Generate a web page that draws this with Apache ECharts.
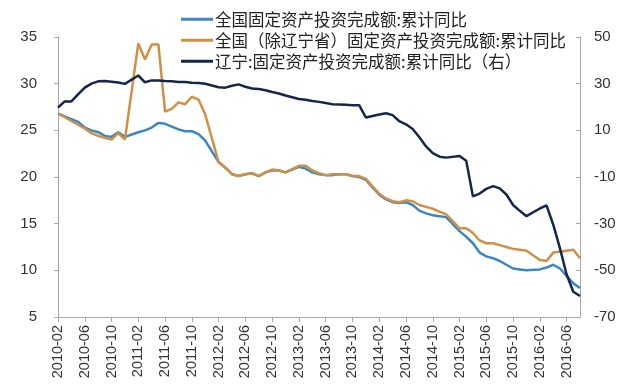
<!DOCTYPE html>
<html>
<head>
<meta charset="utf-8">
<script src="https://cdn.jsdelivr.net/npm/echarts@6/dist/echarts.min.js"></script>
<style>
html,body{margin:0;padding:0;background:#fff;}
#c{width:630px;height:389px;}
</style>
</head>
<body>
<div id="c"></div>
<script>
const categories = [
"2010-02","2010-03","2010-04","2010-05","2010-06","2010-07","2010-08","2010-09","2010-10","2010-11","2010-12",
"2011-01","2011-02","2011-03","2011-04","2011-05","2011-06","2011-07","2011-08","2011-09","2011-10","2011-11","2011-12",
"2012-01","2012-02","2012-03","2012-04","2012-05","2012-06","2012-07","2012-08","2012-09","2012-10","2012-11","2012-12",
"2013-01","2013-02","2013-03","2013-04","2013-05","2013-06","2013-07","2013-08","2013-09","2013-10","2013-11","2013-12",
"2014-01","2014-02","2014-03","2014-04","2014-05","2014-06","2014-07","2014-08","2014-09","2014-10","2014-11","2014-12",
"2015-01","2015-02","2015-03","2015-04","2015-05","2015-06","2015-07","2015-08","2015-09","2015-10","2015-11","2015-12",
"2016-01","2016-02","2016-03","2016-04","2016-05","2016-06","2016-07","2016-08"
];

const seriesNames = [
"全国固定资产投资完成额:累计同比",
"全国（除辽宁省）固定资产投资完成额:累计同比",
"辽宁:固定资产投资完成额:累计同比（右）"
];

// 全国 (left axis)
const national = [
26.8,26.5,26.2,25.9,25.3,25.0,24.8,24.4,24.3,24.8,24.3,
null,24.8,25.0,25.3,25.8,25.7,25.4,25.1,24.9,24.9,24.6,23.9,
null,21.6,21.0,20.3,20.1,20.3,20.4,20.1,20.5,20.7,20.7,20.5,
null,21.1,20.9,20.5,20.3,20.2,20.2,20.3,20.3,20.1,20.0,19.7,
null,18.1,17.6,17.3,17.2,17.3,17.0,16.4,16.1,15.9,15.8,15.7,
null,14.2,13.6,12.9,11.9,11.5,11.3,11.0,10.6,10.2,10.1,10.0,
null,10.1,10.3,10.6,10.2,9.4,8.6,8.1
];

// 全国（除辽宁省） (left axis)
const nationalExLN = [
26.8,26.4,26.0,25.6,25.2,24.7,24.4,24.2,24.0,24.7,24.0,
null,34.3,32.6,34.2,34.2,27.0,27.3,28.0,27.8,28.6,28.3,26.7,
null,21.6,21.0,20.3,20.1,20.3,20.4,20.1,20.5,20.8,20.7,20.5,
null,21.2,21.2,20.7,20.4,20.2,20.3,20.3,20.3,20.1,20.1,19.8,
null,18.2,17.7,17.4,17.3,17.5,17.4,17.0,16.8,16.6,16.3,16.0,
null,14.5,14.5,14.0,13.2,12.9,12.9,12.7,12.5,12.3,12.2,12.1,
null,11.1,11.0,11.9,12.0,12.1,12.2,11.3
];

// 辽宁 (right axis)
const liaoning = [
19.7,22.4,22.4,25.4,28.3,30.0,31.0,31.1,30.8,30.5,29.9,
null,33.5,30.6,31.4,31.4,31.1,31.0,30.7,30.7,30.4,30.3,30.0,
null,28.5,28.3,29.1,29.7,28.7,27.9,27.7,27.2,26.4,25.8,24.9,
null,23.4,23.1,22.6,22.2,21.7,21.2,21.1,21.0,20.8,20.8,15.5,
null,16.8,17.3,16.5,13.9,12.6,10.6,7.0,3.1,0.2,-1.3,-1.7,
null,-1.0,-3.0,-18.3,-17.1,-15.1,-13.9,-14.9,-17.5,-22.0,-24.5,-26.8,
null,-23.5,-22.2,-30.4,-40.5,-51.8,-59.2,-61.0
];

const leftTicks = {min: 5, max: 35, interval: 5};
const rightTicks = {min: -70, max: 50, interval: 20};

const colors = ["#3b87c3", "#d08f45", "#15264a"];
const numFont = "'Liberation Sans', Arial, sans-serif";

const chart = echarts.init(document.getElementById('c'), null, {renderer: 'canvas'});
chart.setOption({
  backgroundColor: '#ffffff',
  animation: false,
  color: colors,
  legend: {
    orient: 'vertical',
    left: 176,
    top: 6,
    itemGap: 4.5,
    itemWidth: 32,
    itemHeight: 3,
    icon: 'rect',
    textStyle: {fontSize: 16.5, color: '#222', fontFamily: "'Noto Sans CJK SC', sans-serif", padding: [0,0,0,-3]},
    data: seriesNames
  },
  grid: {left: 58, right: 50, top: 37, bottom: 72, containLabel: false},
  xAxis: {
    type: 'category',
    data: categories,
    boundaryGap: false,
    axisLine: {onZero: false, lineStyle: {color: '#a8a8a8', width: 1}},
    axisTick: {interval: 3, length: 5, lineStyle: {color: '#a8a8a8'}},
    axisLabel: {interval: 3, rotate: 90, fontSize: 14.5, color: '#333', margin: 8, fontFamily: numFont},
    splitLine: {show: false}
  },
  yAxis: [
    {
      type: 'value', position: 'left',
      min: leftTicks.min, max: leftTicks.max, interval: leftTicks.interval,
      axisLine: {show: true, onZero: false, lineStyle: {color: '#a8a8a8'}},
      axisTick: {show: true, length: 4, lineStyle: {color: '#a8a8a8'}},
      axisLabel: {fontSize: 15, color: '#333', margin: 21, fontFamily: numFont},
      splitLine: {show: false}
    },
    {
      type: 'value', position: 'right',
      min: rightTicks.min, max: rightTicks.max, interval: rightTicks.interval,
      axisLine: {show: true, onZero: false, lineStyle: {color: '#a8a8a8'}},
      axisTick: {show: true, inside: true, length: 4, lineStyle: {color: '#a8a8a8'}},
      axisLabel: {fontSize: 15, color: '#333', margin: 14, fontFamily: numFont},
      splitLine: {show: false}
    }
  ],
  series: [
    {name: seriesNames[0], type: 'line', yAxisIndex: 0, data: national, connectNulls: true, showSymbol: false, symbol: 'none', lineStyle: {width: 2.5}},
    {name: seriesNames[1], type: 'line', yAxisIndex: 0, data: nationalExLN, connectNulls: true, showSymbol: false, symbol: 'none', lineStyle: {width: 2.5}},
    {name: seriesNames[2], type: 'line', yAxisIndex: 1, data: liaoning, connectNulls: true, showSymbol: false, symbol: 'none', lineStyle: {width: 2.5}}
  ]
});
</script>
</body>
</html>
